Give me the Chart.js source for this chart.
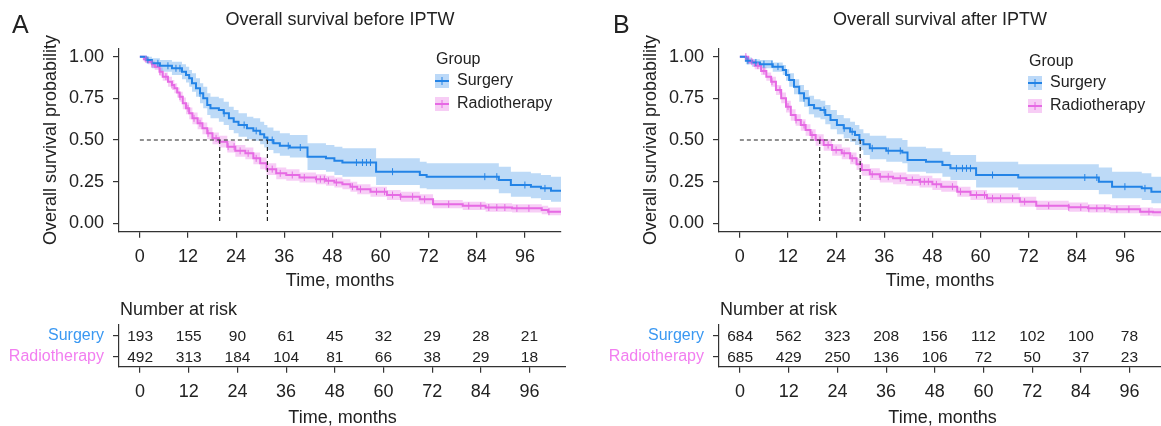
<!DOCTYPE html>
<html>
<head>
<meta charset="utf-8">
<script src="https://cdn.jsdelivr.net/npm/chart.js@4.4.1/dist/chart.umd.min.js"></script>
<style>
  html, body { margin: 0; padding: 0; background: #fff; }
  body { width: 1161px; height: 426px; overflow: hidden; position: relative;
         font-family: 'Liberation Sans', Arial, sans-serif; color: #222; }
  canvas { position: absolute; }
  .lbl { position: absolute; line-height: 1; white-space: nowrap; }
</style>
</head>
<body>
<canvas id="kmA" width="566" height="300" style="left:0;top:0"></canvas>
<canvas id="riskA" width="566" height="129" style="left:0;top:300px"></canvas>
<canvas id="kmB" width="566" height="300" style="left:600px;top:0"></canvas>
<canvas id="riskB" width="566" height="129" style="left:600px;top:300px"></canvas>
<div class="lbl" style="left:12px;top:12px;font-size:25px">A</div>
<div class="lbl" style="left:613px;top:12px;font-size:25px">B</div>
<div class="lbl" style="left:120px;top:300px;font-size:18px">Number at risk</div>
<div class="lbl" style="left:720px;top:300px;font-size:18px">Number at risk</div>
<script>
// ---- data ----
const groups = ['Surgery', 'Radiotherapy'];
const monthTicks = [0, 12, 24, 36, 48, 60, 72, 84, 96];
const survTicks = [0, 0.25, 0.5, 0.75, 1];

// panel A (before IPTW)
const timeA_surg = [0,1.5,3,5,8,10.5,11.5,12.3,13,14,15,15.8,16.8,17.6,19.7,20.9,22.2,23.4,24.6,26.7,28.3,30,31,31.8,33.3,34.9,37.4,41.8,46.4,48.5,50.5,58.9,69.8,71.5,89.5,92.5,97.5,100,102.5,105];
const survA_surg = [1,0.98,0.96,0.945,0.93,0.91,0.89,0.87,0.84,0.81,0.78,0.75,0.71,0.69,0.68,0.66,0.63,0.61,0.59,0.57,0.555,0.535,0.515,0.5,0.48,0.465,0.455,0.4,0.39,0.375,0.365,0.31,0.29,0.28,0.26,0.23,0.22,0.21,0.195,0.195];
const upA_surg   = [1,1,0.99,0.98,0.97,0.955,0.94,0.92,0.9,0.87,0.84,0.82,0.78,0.76,0.75,0.73,0.7,0.68,0.66,0.64,0.63,0.61,0.59,0.575,0.555,0.54,0.53,0.48,0.47,0.46,0.45,0.39,0.37,0.36,0.34,0.31,0.3,0.29,0.28,0.28];
const loA_surg   = [1,0.96,0.93,0.91,0.89,0.865,0.845,0.82,0.79,0.76,0.72,0.69,0.65,0.63,0.61,0.59,0.56,0.54,0.52,0.505,0.495,0.475,0.455,0.44,0.42,0.405,0.395,0.32,0.31,0.29,0.28,0.23,0.21,0.205,0.18,0.16,0.15,0.14,0.13,0.13];
const censA_surg = [2,4.5,7,9,10,15,21,26,29,33,37,40,54,55.5,56.5,57.5,63,86,89,96,101];

const timeA_rad = [0,1,2,3,3.7,4.9,5.7,7,8,8.6,9.3,9.9,10.7,11.5,12.3,13.1,14.4,15.6,16.8,18.1,19.7,21.8,23.8,26.3,28.3,30,31.6,34,36.5,39.8,43.9,46.4,48.5,50.5,52.5,54.2,57.5,61.6,65,69.8,73.1,80.5,86.2,92.8,100.2,101.8,105];
const survA_rad = [1,0.985,0.97,0.955,0.94,0.91,0.88,0.85,0.83,0.81,0.785,0.76,0.72,0.69,0.66,0.63,0.6,0.57,0.54,0.51,0.49,0.46,0.435,0.42,0.39,0.36,0.325,0.3,0.29,0.275,0.265,0.255,0.245,0.235,0.22,0.205,0.19,0.17,0.16,0.145,0.115,0.105,0.095,0.09,0.08,0.07,0.07];
const upA_rad   = [1,1,0.985,0.975,0.96,0.935,0.905,0.88,0.86,0.84,0.815,0.79,0.755,0.725,0.695,0.665,0.635,0.605,0.575,0.545,0.525,0.495,0.47,0.455,0.425,0.395,0.36,0.335,0.325,0.305,0.295,0.285,0.275,0.265,0.25,0.235,0.22,0.2,0.19,0.175,0.14,0.13,0.12,0.115,0.105,0.095,0.095];
const loA_rad   = [1,0.97,0.955,0.935,0.92,0.885,0.855,0.82,0.8,0.78,0.755,0.73,0.685,0.655,0.625,0.595,0.565,0.535,0.505,0.475,0.455,0.425,0.4,0.385,0.355,0.325,0.29,0.265,0.255,0.245,0.235,0.225,0.215,0.205,0.19,0.175,0.16,0.14,0.13,0.115,0.09,0.08,0.07,0.065,0.055,0.048,0.048];
const censA_rad = [1.5,3,5,6.5,8,10,12,13.5,15,17,19,22,23.5,25,27,29,33,35,38,41,44,45,46,47,49,53,55,59,61,63,65,68,71,77,82,85,87,89,91,94,97,102];

const medianA = [31.8, 19.9];
const riskA = [[193,155,90,61,45,32,29,28,21], [492,313,184,104,81,66,38,29,18]];

// panel B (after IPTW)
const timeB_surg = [0,1.5,3,5,8.2,10.7,11.5,12.3,13.5,14.8,16,17.2,18.5,20.1,21.3,22.6,24.2,25.9,27.5,28.7,29.8,30.8,32.4,36.5,40.5,41.8,46.4,50.5,52.5,58.9,69.4,89.5,92.8,100.2,102.6,105];
const survB_surg = [1,0.975,0.965,0.955,0.94,0.92,0.89,0.86,0.82,0.78,0.75,0.71,0.69,0.68,0.65,0.62,0.59,0.57,0.55,0.53,0.5,0.475,0.45,0.435,0.425,0.38,0.37,0.35,0.33,0.29,0.275,0.25,0.22,0.21,0.19,0.19];
const upB_surg   = [1,0.995,0.985,0.98,0.965,0.95,0.925,0.9,0.865,0.83,0.8,0.765,0.745,0.735,0.71,0.68,0.65,0.63,0.61,0.59,0.565,0.54,0.525,0.51,0.5,0.46,0.45,0.43,0.41,0.37,0.355,0.335,0.31,0.3,0.28,0.28];
const loB_surg   = [1,0.955,0.94,0.93,0.91,0.89,0.855,0.82,0.775,0.73,0.7,0.655,0.635,0.625,0.595,0.565,0.535,0.51,0.49,0.47,0.44,0.41,0.385,0.37,0.36,0.31,0.3,0.28,0.26,0.215,0.2,0.175,0.15,0.14,0.12,0.12];
const censB_surg = [2,4,6,8,9.5,16,21,26,28,33,37,40,54,55.5,56.5,57.5,63,86,89,96,101];

const timeB_rad = [0,2.1,3.7,5.3,6.6,7.8,9,10.3,11.5,12.7,13.9,15.2,16.4,17.6,18.9,20.9,23,25.4,27.5,29.1,30.4,32.4,34.9,38.2,41.5,44.8,48,50.2,54.2,57.5,61.6,69.8,73.9,82,86.8,92.3,99.8,103,105];
const survB_rad = [1,0.97,0.946,0.914,0.88,0.85,0.8,0.75,0.7,0.65,0.62,0.59,0.56,0.53,0.5,0.47,0.44,0.42,0.39,0.354,0.32,0.294,0.28,0.27,0.26,0.25,0.234,0.22,0.19,0.17,0.15,0.13,0.106,0.096,0.09,0.085,0.07,0.066,0.066];
const upB_rad   = [1,0.985,0.965,0.94,0.905,0.88,0.83,0.785,0.735,0.685,0.655,0.625,0.595,0.565,0.535,0.505,0.475,0.455,0.425,0.39,0.355,0.33,0.315,0.305,0.295,0.285,0.27,0.255,0.22,0.2,0.18,0.16,0.135,0.125,0.115,0.11,0.095,0.09,0.09];
const loB_rad   = [1,0.955,0.925,0.89,0.855,0.82,0.77,0.72,0.665,0.615,0.585,0.555,0.525,0.495,0.465,0.435,0.405,0.385,0.355,0.32,0.285,0.26,0.245,0.235,0.225,0.215,0.2,0.19,0.16,0.14,0.12,0.1,0.08,0.07,0.065,0.06,0.045,0.042,0.042];
const censB_rad = [1.5,3,4.5,6,8,10,12,14,16,18,20,22,24,26,28,33,35,37,40,43,45,46,47,49,53,55,59,61,63,65,68,71,77,82,85,87,89,91,94,97,102];

const medianB = [30.0, 19.9];
const riskB = [[684,562,323,208,156,112,102,100,78], [685,429,250,136,106,72,50,37,23]];

// ---- styling ----
const lineColors = ['#2383e6', '#e66ae4'];
const bandColors = ['rgba(35,131,230,0.30)', 'rgba(230,106,228,0.33)'];
const keyColors = ['#bcd9f8', '#f7cdf5'];
const labelColors = ['#3a98f2', '#f27ef0'];
const FONT = "'Liberation Sans', Arial, sans-serif";
Chart.defaults.font.family = FONT;
Chart.defaults.color = '#222';

function pts(t, v) { return t.map((x, i) => ({ x: x, y: v[i] })); }
function survAt(t, s, x) {
  let v = s[0];
  for (let i = 0; i < t.length; i++) if (t[i] <= x) v = s[i];
  return v;
}

const kmDecor = {
  id: 'kmDecor',
  afterDraw(chart, args, o) {
    const ctx = chart.ctx, ca = chart.chartArea;
    ctx.save();
    ctx.fillStyle = '#222';
    ctx.textBaseline = 'middle';
    ctx.textAlign = 'center';
    ctx.font = '18px ' + FONT;
    ctx.fillText(o.title, (ca.left + ca.right) / 2, 20);
    ctx.textAlign = 'left';
    ctx.font = '16px ' + FONT;
    ctx.fillText('Group', o.x + 1, o.y);
    groups.forEach((g, i) => {
      const cy = o.y + 21 + i * 23;
      ctx.fillStyle = keyColors[i];
      ctx.fillRect(o.x, cy - 7, 14, 14);
      ctx.strokeStyle = lineColors[i];
      ctx.lineWidth = 2;
      ctx.beginPath(); ctx.moveTo(o.x, cy); ctx.lineTo(o.x + 14, cy); ctx.stroke();
      ctx.lineWidth = 1;
      ctx.beginPath(); ctx.moveTo(o.x + 7, cy - 4); ctx.lineTo(o.x + 7, cy + 4); ctx.stroke();
      ctx.fillStyle = '#222';
      ctx.fillText(g, o.x + 22, cy);
    });
    ctx.restore();
  }
};

const riskText = {
  id: 'riskText',
  afterDraw(chart, args, o) {
    const ctx = chart.ctx, xs = chart.scales.x, ys = chart.scales.y;
    ctx.save();
    ctx.fillStyle = '#222';
    ctx.textAlign = 'center';
    ctx.textBaseline = 'middle';
    ctx.font = '15.5px ' + FONT;
    o.rows.forEach((row, g) => {
      row.forEach((n, i) => {
        ctx.fillText(String(n), xs.getPixelForValue(monthTicks[i]), ys.getPixelForValue(g) + 1);
      });
    });
    ctx.restore();
  }
};

const axisGrid = { drawOnChartArea: false, tickLength: 6, color: '#333', lineWidth: 1.2 };
const axisBorder = { color: '#333', width: 1.2 };
function xAxis(h, titlePad, tickPad) {
  return {
    type: 'linear', min: -5.2, max: 105,
    afterBuildTicks: s => { s.ticks = monthTicks.map(v => ({ value: v })); },
    afterFit: s => { s.height = h; },
    grid: axisGrid, border: axisBorder,
    ticks: { font: { size: 18 }, color: '#222', padding: tickPad, maxRotation: 0, autoSkip: false },
    title: { display: true, text: 'Time, months', font: { size: 18 }, color: '#222', padding: { top: 0, bottom: titlePad } }
  };
}

function makeKM(id, d) {
  const ds = [];
  d.curves.forEach((c, i) => {
    ds.push({ data: pts(c.t, c.up), stepped: 'before', borderWidth: 0, pointRadius: 0, fill: '+1', backgroundColor: bandColors[i], order: 10 });
    ds.push({ data: pts(c.t, c.lo), stepped: 'before', borderWidth: 0, pointRadius: 0, fill: false, order: 10 });
  });
  d.curves.forEach((c, i) => {
    ds.push({ data: pts(c.t, c.s), stepped: 'before', borderColor: lineColors[i], borderWidth: 2, pointRadius: 0, fill: false, order: 3 });
    ds.push({ data: c.cens.map(x => ({ x: x, y: survAt(c.t, c.s, x) })), showLine: false, pointStyle: 'line', rotation: 90,
              pointRadius: 3.5, pointBorderWidth: 1, borderColor: lineColors[i], order: 2 });
  });
  const mMax = Math.max(...d.medians);
  const dash = { borderColor: '#222', borderWidth: 1.2, borderDash: [4, 3], pointRadius: 0, fill: false, order: 1 };
  ds.push(Object.assign({ data: [{ x: 0, y: 0.5 }, { x: mMax, y: 0.5 }] }, dash));
  d.medians.forEach(m => ds.push(Object.assign({ data: [{ x: m, y: 0.5 }, { x: m, y: 0 }] }, dash)));

  return new Chart(document.getElementById(id), {
    type: 'line',
    data: { datasets: ds },
    plugins: [kmDecor],
    options: {
      responsive: false, animation: false, devicePixelRatio: 1,
      layout: { padding: { top: 48.3, left: 0, right: 0, bottom: 0 } },
      plugins: {
        legend: { display: false }, tooltip: { enabled: false },
        kmDecor: { title: d.title, x: d.legendX, y: d.legendY }
      },
      scales: {
        x: xAxis(68.3, 8, 9),
        y: {
          min: -0.05, max: 1.05,
          afterBuildTicks: s => { s.ticks = survTicks.map(v => ({ value: v })); },
          afterFit: s => { s.width = 119; },
          grid: axisGrid, border: axisBorder,
          ticks: { font: { size: 18 }, color: '#222', padding: 9, callback: v => v.toFixed(2) },
          title: { display: true, text: 'Overall survival probability', font: { size: 18 }, color: '#222', padding: { top: 40, bottom: 0 } }
        }
      }
    }
  });
}

function makeRisk(id, rows) {
  return new Chart(document.getElementById(id), {
    type: 'line',
    data: { labels: groups, datasets: [] },
    plugins: [riskText],
    options: {
      responsive: false, animation: false, devicePixelRatio: 1,
      layout: { padding: { top: 25, left: 0, right: 0, bottom: 0 } },
      plugins: { legend: { display: false }, tooltip: { enabled: false }, riskText: { rows: rows } },
      scales: {
        x: xAxis(62.3, 0, 8.5),
        y: {
          type: 'category', labels: groups, offset: true,
          afterFit: s => { s.width = 119; },
          grid: Object.assign({ offset: false }, axisGrid), border: axisBorder,
          ticks: { font: { size: 16 }, padding: 9, autoSkip: false, color: c => labelColors[c.index] }
        }
      }
    }
  });
}

makeKM('kmA', {
  title: 'Overall survival before IPTW', legendX: 435, legendY: 60, medians: medianA,
  curves: [
    { t: timeA_surg, s: survA_surg, up: upA_surg, lo: loA_surg, cens: censA_surg },
    { t: timeA_rad, s: survA_rad, up: upA_rad, lo: loA_rad, cens: censA_rad }
  ]
});
makeKM('kmB', {
  title: 'Overall survival after IPTW', legendX: 428, legendY: 62, medians: medianB,
  curves: [
    { t: timeB_surg, s: survB_surg, up: upB_surg, lo: loB_surg, cens: censB_surg },
    { t: timeB_rad, s: survB_rad, up: upB_rad, lo: loB_rad, cens: censB_rad }
  ]
});
makeRisk('riskA', riskA);
makeRisk('riskB', riskB);
</script>
</body>
</html>
